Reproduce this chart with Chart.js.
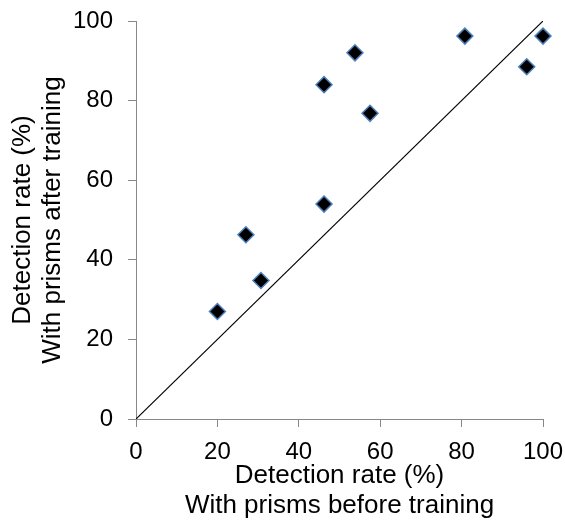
<!DOCTYPE html>
<html lang="en">
<head>
  <meta charset="UTF-8" />
  <title>Detection rate scatter</title>
  <script src="https://cdn.jsdelivr.net/npm/chart.js"></script>
  <style>
    body { margin:0; background:white; }
    #wrap { width:565px; height:521px; }
  </style>
</head>
<body>
  <div id="wrap"><canvas id="scatter" width="565" height="521"></canvas></div>

  <script>
    // before vs after training, %
    const beforeTraining = [20, 27, 30.7, 46.2, 46.2, 53.8, 57.5, 80.8, 96, 100];
    const afterTraining  = [27, 46.3, 34.8, 84, 54, 92, 76.8, 96.2, 88.5, 96.2];
    const identityLine = [0, 100];
    const tickValues = [0, 20, 40, 60, 80, 100];

    const points = beforeTraining.map((b, i) => ({ x: b, y: afterTraining[i] }));
    const diag = identityLine.map(v => ({ x: v, y: v }));

    const family = "'Liberation Sans', Arial, sans-serif";
    const tickFont = { family: family, size: 24 };
    const titleFont = { family: family, size: 26, lineHeight: 1.15 };
    const axisColor = "#888888";

    new Chart(document.getElementById("scatter"), {
      type: 'scatter',
      data: {
        datasets: [
          {
            data: diag,
            showLine: true,
            borderColor: "#000000",
            borderWidth: 1.2,
            pointRadius: 0,
            order: 2
          },
          {
            data: points,
            clip: false,
            pointStyle: 'rectRot',
            pointRadius: 8,
            pointBackgroundColor: "#000000",
            pointBorderColor: "#4f81bd",
            pointBorderWidth: 1.5,
            order: 1
          }
        ]
      },
      options: {
        responsive: false,
        animation: false,
        layout: { padding: { top: 21, right: 22, left: 0, bottom: 0 } },
        plugins: { legend: { display: false }, tooltip: { enabled: false } },
        scales: {
          x: {
            type: 'linear', min: 0, max: 100,
            afterBuildTicks: s => { s.ticks = tickValues.map(v => ({ value: v })); },
            afterFit: s => { s.height = 102; s.paddingLeft = 0; s.paddingRight = 0; },
            grid: { drawOnChartArea: false, drawTicks: true, tickLength: 8, color: axisColor },
            border: { color: axisColor, width: 1 },
            ticks: { color: "#000", font: tickFont, padding: 11, maxRotation: 0 },
            title: {
              display: true,
              text: ["Detection rate (%)", "With prisms before training"],
              color: "#000", font: titleFont,
              padding: { top: 0, bottom: 0 }
            }
          },
          y: {
            type: 'linear', min: 0, max: 100,
            afterBuildTicks: s => { s.ticks = tickValues.map(v => ({ value: v })); },
            afterFit: s => { s.width = 136; s.paddingTop = 0; s.paddingBottom = 0; },
            grid: { drawOnChartArea: false, drawTicks: true, tickLength: 8, color: axisColor },
            border: { color: axisColor, width: 1 },
            ticks: { color: "#000", font: tickFont, padding: 15 },
            title: {
              display: true,
              text: ["Detection rate (%)", "With prisms after training"],
              color: "#000", font: titleFont,
              padding: { top: 8, bottom: 0 }
            }
          }
        }
      }
    });
  </script>
</body>
</html>
